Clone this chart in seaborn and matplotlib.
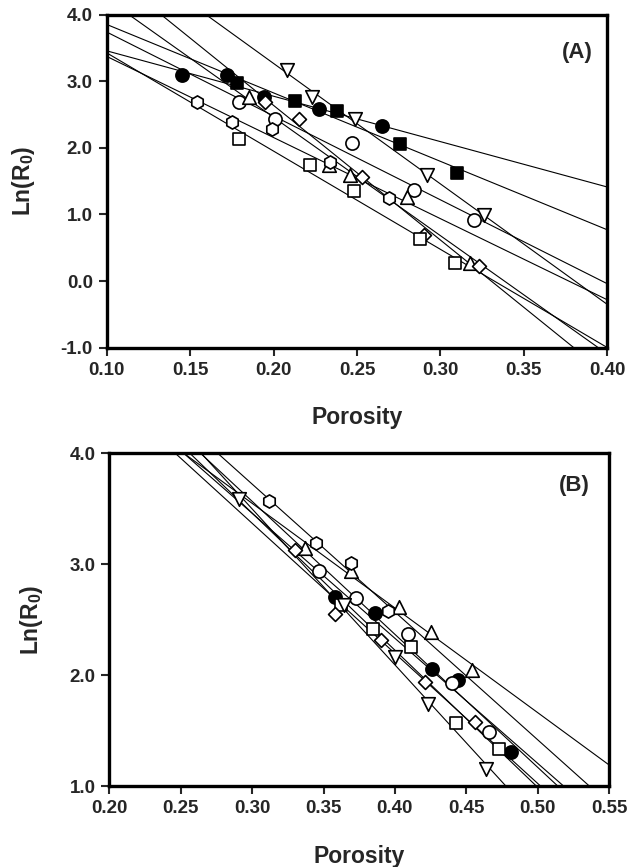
import numpy as np
import pandas as pd
import matplotlib
matplotlib.use('Agg')
import matplotlib.pyplot as plt
import seaborn as sns

sns.set_style('ticks')
plt.rcParams['font.family'] = ['Liberation Sans', 'DejaVu Sans']
plt.rcParams['font.weight'] = 'bold'
plt.rcParams['mathtext.fontset'] = 'custom'
plt.rcParams['mathtext.rm'] = 'Liberation Sans:bold'
plt.rcParams['mathtext.bf'] = 'Liberation Sans:bold'
plt.rcParams['mathtext.default'] = 'bf'

# ---- panel (A) data ----
a_fcircle_x = [0.145, 0.172, 0.194, 0.227, 0.265]
a_fcircle_y = [3.09, 3.09, 2.76, 2.59, 2.33]
a_fsquare_x = [0.178, 0.213, 0.238, 0.276, 0.310]
a_fsquare_y = [2.98, 2.70, 2.55, 2.06, 1.63]
a_tdown_x = [0.208, 0.223, 0.249, 0.292, 0.326]
a_tdown_y = [3.17, 2.76, 2.44, 1.59, 0.99]
a_circle_x = [0.179, 0.201, 0.247, 0.284, 0.320]
a_circle_y = [2.69, 2.43, 2.08, 1.37, 0.92]
a_tup_x = [0.185, 0.233, 0.246, 0.280, 0.318]
a_tup_y = [2.77, 1.74, 1.60, 1.26, 0.27]
a_diamond_x = [0.195, 0.215, 0.253, 0.290, 0.323]
a_diamond_y = [2.69, 2.43, 1.57, 0.69, 0.23]
a_hexagon_x = [0.154, 0.175, 0.199, 0.234, 0.269]
a_hexagon_y = [2.69, 2.39, 2.28, 1.79, 1.25]
a_square_x = [0.179, 0.222, 0.248, 0.288, 0.309]
a_square_y = [2.14, 1.74, 1.35, 0.63, 0.27]

# ---- panel (B) data ----
b_fcircle_x = [0.358, 0.386, 0.426, 0.444, 0.481]
b_fcircle_y = [2.71, 2.56, 2.06, 1.96, 1.31]
b_circle_x = [0.347, 0.373, 0.409, 0.440, 0.466]
b_circle_y = [2.94, 2.70, 2.37, 1.93, 1.49]
b_square_x = [0.362, 0.385, 0.411, 0.443, 0.473]
b_square_y = [2.63, 2.42, 2.26, 1.57, 1.34]
b_tdown_x = [0.291, 0.364, 0.400, 0.423, 0.464]
b_tdown_y = [3.59, 2.63, 2.17, 1.74, 1.16]
b_tup_x = [0.337, 0.369, 0.403, 0.425, 0.454]
b_tup_y = [3.15, 2.94, 2.62, 2.39, 2.05]
b_diamond_x = [0.330, 0.358, 0.390, 0.421, 0.456]
b_diamond_y = [3.13, 2.55, 2.32, 1.94, 1.58]
b_hexagon_x = [0.312, 0.345, 0.369, 0.395]
b_hexagon_y = [3.57, 3.19, 3.01, 2.58]

# marker style for each series: (marker, face colour, size)
styles = {
    'fcircle': ('o', 'black', 90),
    'fsquare': ('s', 'black', 64),
    'tdown': ('v', 'white', 95),
    'circle': ('o', 'white', 90),
    'tup': ('^', 'white', 95),
    'diamond': ('D', 'white', 50),
    'hexagon': ('h', 'white', 90),
    'square': ('s', 'white', 64),
}

panel_a = {
    'fcircle': (a_fcircle_x, a_fcircle_y),
    'fsquare': (a_fsquare_x, a_fsquare_y),
    'tdown': (a_tdown_x, a_tdown_y),
    'circle': (a_circle_x, a_circle_y),
    'tup': (a_tup_x, a_tup_y),
    'diamond': (a_diamond_x, a_diamond_y),
    'hexagon': (a_hexagon_x, a_hexagon_y),
    'square': (a_square_x, a_square_y),
}
panel_b = {
    'fcircle': (b_fcircle_x, b_fcircle_y),
    'circle': (b_circle_x, b_circle_y),
    'square': (b_square_x, b_square_y),
    'tdown': (b_tdown_x, b_tdown_y),
    'tup': (b_tup_x, b_tup_y),
    'diamond': (b_diamond_x, b_diamond_y),
    'hexagon': (b_hexagon_x, b_hexagon_y),
}

fig = plt.figure(figsize=(6.28, 8.67), dpi=100)
ax_a = fig.add_axes([0.170, 0.599, 0.797, 0.384])
ax_b = fig.add_axes([0.174, 0.093, 0.796, 0.384])


def draw_panel(ax, series, xlim, ylim, xticks, yticks, tag, tag_pos, ylab_x):
    ax.set_xlim(xlim)
    ax.set_ylim(ylim)
    # regression lines first, across the whole x range
    for name, (xs, ys) in series.items():
        df = pd.DataFrame({'x': xs, 'y': ys})
        sns.regplot(data=df, x='x', y='y', ax=ax, scatter=False, ci=None,
                    truncate=False, line_kws=dict(color='black', lw=0.8, zorder=2))
    for name, (xs, ys) in series.items():
        m, fc, s = styles[name]
        df = pd.DataFrame({'x': xs, 'y': ys})
        sns.scatterplot(data=df, x='x', y='y', ax=ax, marker=m, s=s, color=fc,
                        edgecolor='black', linewidth=1.2, zorder=3)
    ax.set_xlim(xlim)
    ax.set_ylim(ylim)
    ax.set_xticks(xticks)
    ax.set_yticks(yticks)
    ax.set_xticklabels([f'{t:.2f}' for t in xticks])
    ax.set_yticklabels([f'{t:.1f}' for t in yticks])
    ax.tick_params(direction='out', length=6, width=1.5, labelsize=13.5, pad=4)
    for sp in ax.spines.values():
        sp.set_linewidth(2.4)
        sp.set_color('black')
    ax.set_xlabel('Porosity', fontsize=16.5, fontweight='bold')
    ax.set_ylabel(r'Ln(R$_{0}$)', fontsize=16.5, fontweight='bold')
    ax.xaxis.set_label_coords(0.5, -0.175)
    ax.yaxis.set_label_coords(ylab_x, 0.5)
    ax.text(tag_pos[0], tag_pos[1], tag, transform=ax.transAxes, fontsize=16,
            fontweight='bold', ha='center', va='center')


draw_panel(ax_a, panel_a, (0.10, 0.40), (-1.0, 4.0),
           [0.10, 0.15, 0.20, 0.25, 0.30, 0.35, 0.40],
           [-1.0, 0.0, 1.0, 2.0, 3.0, 4.0], '(A)', (0.94, 0.887), -0.14)
draw_panel(ax_b, panel_b, (0.20, 0.55), (1.0, 4.0),
           [0.20, 0.25, 0.30, 0.35, 0.40, 0.45, 0.50, 0.55],
           [1.0, 2.0, 3.0, 4.0], '(B)', (0.93, 0.904), -0.128)

fig.savefig('out.png', dpi=100)
